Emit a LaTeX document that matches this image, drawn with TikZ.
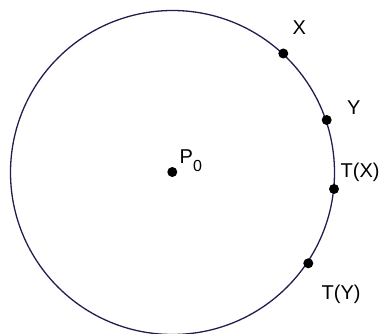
\documentclass[tikz,border=0pt]{standalone}
\usepackage{fontspec}
\setmainfont{Liberation Sans}
\definecolor{circcol}{RGB}{30,30,80}
\begin{document}
\begin{tikzpicture}[x=1pt,y=-1pt,
  dot/.style={circle,fill=black,inner sep=0pt,minimum size=10pt},
  lab/.style={anchor=base west,inner sep=0pt,font=\fontsize{20}{24}\selectfont}]
\useasboundingbox (0,0) rectangle (380,334);
\coordinate (O) at (172.5,172.5);
\draw[circcol,line width=1.3pt] (O) circle[radius=162];
\node[dot] (p0) at (172.3,172) {};
\node[dot] (x) at (283.3,53.5) {};
\node[dot] (y) at (326.7,120) {};
\node[dot] (tx) at (334,189) {};
\node[dot] (ty) at (308.3,263.3) {};
\node[lab] (lp0) at (179.5,163) {P\raisebox{-8.7pt}{\fontsize{16}{16}\selectfont 0}};
\node[lab] (lx) at (292.5,35) {X};
\node[lab] (ly) at (347,115) {Y};
\node[lab] (ltx) at (340.5,177) {T(X)};
\node[lab] (lty) at (321.5,299) {T(Y)};
\end{tikzpicture}
\end{document}
